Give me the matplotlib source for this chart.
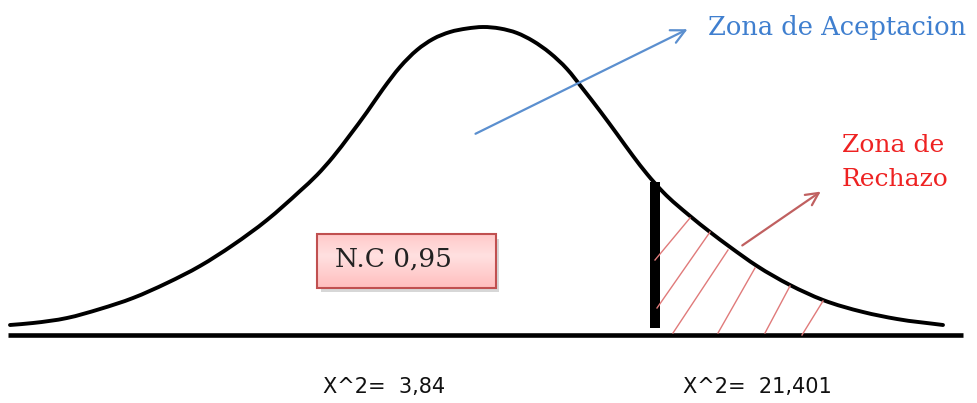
import numpy as np
import matplotlib
matplotlib.use('Agg')
import matplotlib.pyplot as plt
from matplotlib.patches import Rectangle, PathPatch
from matplotlib.path import Path

# hand drawn bell curve (pixel coords, y down)
curve_x = [10, 33, 67, 100, 133, 167, 200, 233, 267, 300, 317, 333, 350, 367, 383, 400, 417, 433,
           450, 467, 483, 500, 517, 533, 550, 567, 583, 600, 617, 633, 647, 663, 690, 710, 730,
           757, 790, 823, 863, 897, 943]
curve_y = [325, 323, 318, 309, 298, 283, 266, 245, 220, 191, 175, 157, 135, 112, 89, 67, 50, 39,
           32, 28.5, 27, 28.5, 33, 41, 53, 69, 89, 111, 134, 156, 174, 192, 216, 232, 247,
           266, 285, 300, 312, 319, 325]

# critical value bar and rejection hatching
bar_x = 655
bar_top, bar_bottom = 182, 328
hatch_x0 = [655, 657, 673, 718, 765, 802]
hatch_y0 = [260, 308, 333, 333, 333, 335]
hatch_x1 = [690, 710, 728, 755, 790, 823]
hatch_y1 = [218, 232, 250, 268, 286, 301]

labels_bottom = ['X^2=  3,84', 'X^2=  21,401']
labels_bottom_x = [323, 683]
nc_label = 'N.C 0,95'


def smooth_path(xs, ys):
    # piecewise cubic through the points (bessel slopes), as bezier segments
    x = np.asarray(xs, float)
    y = np.asarray(ys, float)
    h = np.diff(x)
    s = np.diff(y) / h
    m = np.zeros_like(x)
    m[0], m[-1] = s[0], s[-1]
    m[1:-1] = (h[:-1] * s[1:] + h[1:] * s[:-1]) / (h[:-1] + h[1:])
    verts = [(x[0], y[0])]
    codes = [Path.MOVETO]
    for i in range(len(x) - 1):
        d = h[i] / 3
        verts += [(x[i] + d, y[i] + m[i] * d), (x[i + 1] - d, y[i + 1] - m[i + 1] * d),
                  (x[i + 1], y[i + 1])]
        codes += [Path.CURVE4] * 3
    return Path(verts, codes)


fig = plt.figure(figsize=(9.77, 4.03), dpi=100)
ax = fig.add_axes([0, 0, 1, 1])
ax.set_xlim(0, 977)
ax.set_ylim(403, 0)
ax.axis('off')

# baseline
ax.plot([8, 963], [335, 335], color='black', lw=3.3, solid_capstyle='butt')

# curve
ax.add_patch(PathPatch(smooth_path(curve_x, curve_y), facecolor='none', edgecolor='black',
                       lw=2.8, capstyle='round', joinstyle='round'))

# thick bar
ax.plot([bar_x, bar_x], [bar_top, bar_bottom], color='black', lw=7.2, solid_capstyle='butt')

# hatching
for x0, y0, x1, y1 in zip(hatch_x0, hatch_y0, hatch_x1, hatch_y1):
    ax.plot([x0, x1], [y0, y1], color='#e07a7a', lw=1.0)

# blue arrow
ax.annotate('', xy=(690, 28), xytext=(473, 135),
            arrowprops=dict(arrowstyle='->,head_length=1.0,head_width=0.5',
                            color='#5b8fcf', lw=1.6))
ax.text(708, 27, 'Zona de Aceptacion', color='#3f7fcf', fontsize=18.5,
        family='DejaVu Serif', va='center', ha='left')

# red arrow
ax.annotate('', xy=(823, 190), xytext=(740, 247),
            arrowprops=dict(arrowstyle='->,head_length=0.9,head_width=0.45',
                            color='#c06060', lw=1.6))
ax.text(842, 145, 'Zona de', color='#ee2222', fontsize=18,
        family='DejaVu Serif', va='center', ha='left')
ax.text(842, 180, 'Rechazo', color='#ee2222', fontsize=18,
        family='DejaVu Serif', va='center', ha='left')

# N.C box with shadow and gradient
ax.add_patch(Rectangle((321, 239), 178, 53, facecolor='#b0b0b0', edgecolor='none', alpha=0.5, zorder=2))
grad = np.linspace(0, 1, 50)
grad = 1 - np.abs(grad - 0.4) * 1.4
cols = np.zeros((50, 1, 3))
cols[:, 0, 0] = 1.0
cols[:, 0, 1] = 0.72 + 0.16 * grad
cols[:, 0, 2] = 0.72 + 0.16 * grad
ax.imshow(cols, extent=(317, 496, 288, 234), aspect='auto', zorder=3, interpolation='bilinear')
ax.add_patch(Rectangle((317, 234), 179, 54, facecolor='none', edgecolor='#c05050', lw=1.5, zorder=4))
ax.text(335, 259, nc_label, color='#222222', fontsize=19, family='DejaVu Serif',
        va='center', ha='left', zorder=5)

for lab, lx in zip(labels_bottom, labels_bottom_x):
    ax.text(lx, 387, lab, color='#111111', fontsize=15, family='DejaVu Sans', va='center', ha='left')

ax.set_xlim(0, 977)
ax.set_ylim(403, 0)
fig.savefig('out.png', dpi=100)
